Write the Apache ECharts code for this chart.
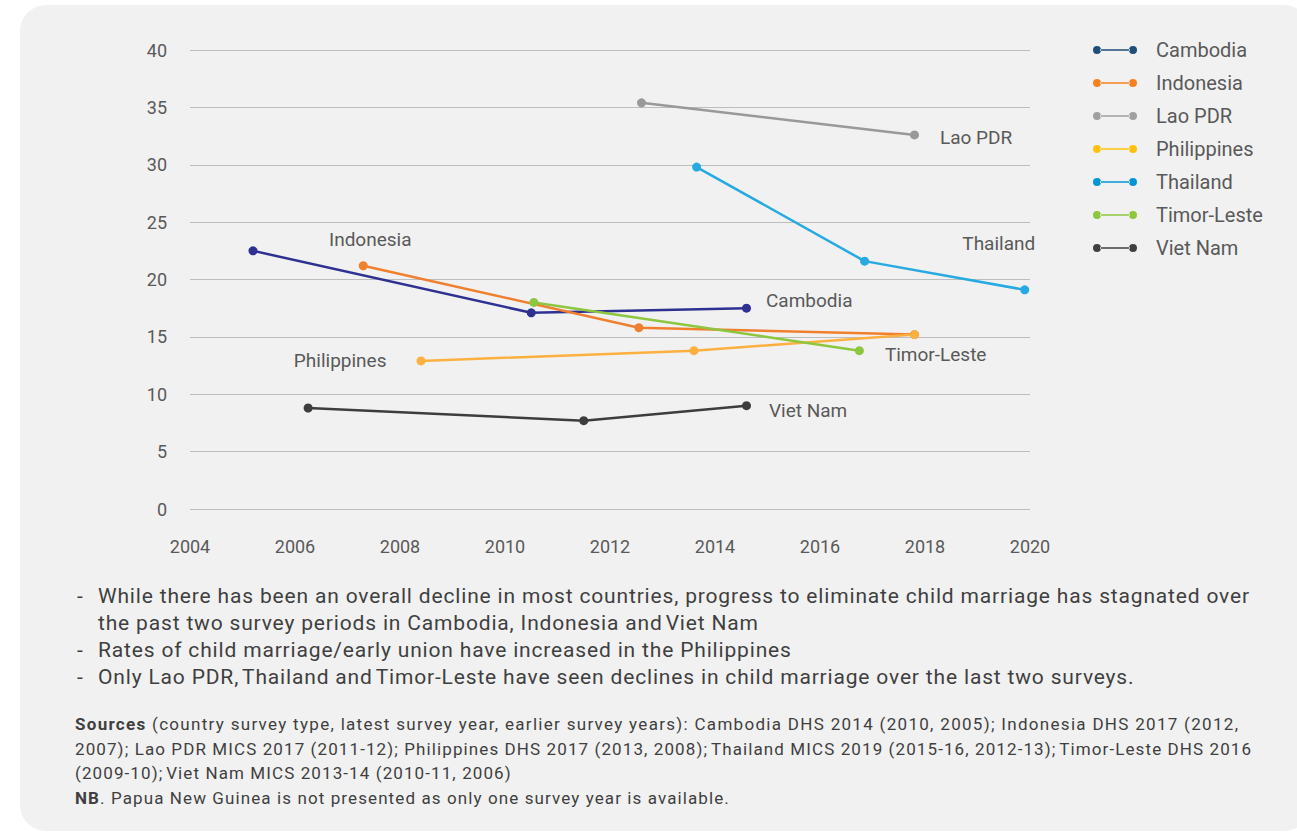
<!DOCTYPE html>
<html>
<head>
<meta charset="utf-8">
<script src="https://cdn.jsdelivr.net/npm/echarts@6/dist/echarts.min.js"></script>
<style>
  html, body { margin: 0; padding: 0; background: #ffffff; width: 1297px; height: 832px; overflow: hidden; }
  #panel { position: absolute; left: 20px; top: 5px; width: 1290px; height: 826px; background: #f1f1f1; border-radius: 26px; }
  #chart { position: absolute; left: 0; top: 0; width: 1297px; height: 560px; }
  .notes { position: absolute; left: 77px; top: 583px; font-family: Roboto, "Liberation Sans", sans-serif; font-size: 21px; line-height: 27px; color: #3f3f3f; letter-spacing: 0.83px; white-space: nowrap; }
  .notes div { position: relative; padding-left: 21px; }
  .notes div span.d { position: absolute; left: 0; }
  .src { position: absolute; left: 75px; top: 712px; font-family: Roboto, "Liberation Sans", sans-serif; font-size: 17px; line-height: 24.5px; color: #3f3f3f; letter-spacing: 1.1px; white-space: nowrap; }
  .src .l1 { letter-spacing: 1.3px; }
</style>
</head>
<body>
<div id="panel"></div>
<div id="chart"></div>
<div class="notes">
  <div><span class="d">-</span>While there has been an overall decline in most countries, progress to eliminate child marriage has stagnated over<br>the past two survey periods in Cambodia, Indonesia and&#8202;Viet Nam</div>
  <div><span class="d">-</span>Rates of child marriage/early union have increased in the Philippines</div>
  <div><span class="d">-</span>Only Lao PDR,&#8202;Thailand and&#8202;Timor-Leste have seen declines in child marriage over the last two surveys.</div>
</div>
<div class="src"><span class="l1"><b>Sources</b> (country survey type, latest survey year, earlier survey years): Cambodia DHS 2014 (2010, 2005); Indonesia DHS 2017 (2012,</span><br>2007); Lao PDR MICS 2017 (2011-12); Philippines DHS 2017 (2013, 2008);&#8202;Thailand MICS 2019 (2015-16, 2012-13);&#8202;Timor-Leste DHS 2016<br>(2009-10);&#8202;Viet Nam MICS 2013-14 (2010-11, 2006)<br><b>NB</b>. Papua New Guinea is not presented as only one survey year is available.</div>
<script>
// Survey year (fractional for split-year surveys) and child marriage rate, %
const cambodia    = [[2005.2, 22.5], [2010.5, 17.1], [2014.6, 17.5]];
const indonesia   = [[2007.3, 21.2], [2012.55, 15.8], [2017.8, 15.2]];
const laoPDR      = [[2012.6, 35.4], [2017.8, 32.6]];
const philippines = [[2008.4, 12.9], [2013.6, 13.8], [2017.8, 15.2]];
const thailand    = [[2013.65, 29.8], [2016.85, 21.6], [2019.9, 19.1]];
const timorLeste  = [[2010.55, 18.0], [2016.75, 13.8]];
const vietNam     = [[2006.25, 8.8], [2011.5, 7.7], [2014.6, 9.0]];

const countries = ['Cambodia', 'Indonesia', 'Lao PDR', 'Philippines', 'Thailand', 'Timor-Leste', 'Viet Nam'];
const seriesData = [cambodia, indonesia, laoPDR, philippines, thailand, timorLeste, vietNam];
const lineColors = ['#2e3192', '#f07f2e', '#999999', '#fbb040', '#27aae1', '#8dc63f', '#3d3d3d'];
const legendColors = ['#1f4e79', '#f58220', '#a0a0a0', '#ffc20e', '#0096d6', '#8dc63f', '#404040'];
const xTicks = [2004, 2006, 2008, 2010, 2012, 2014, 2016, 2018, 2020];
const yTicks = [0, 5, 10, 15, 20, 25, 30, 35, 40];

// Which point carries the country name, and where the name sits
const nameLabels = {
  'Cambodia':    { idx: 2, position: 'right', distance: 15, offset: [0, -8] },
  'Indonesia':   { idx: 0, position: 'top', distance: 5, offset: [7, -7] },
  'Lao PDR':     { idx: 1, position: 'right', distance: 21, offset: [0, 3] },
  'Philippines': { idx: 0, position: 'left', distance: 30, offset: [0, 0] },
  'Thailand':    { idx: 2, position: 'top', distance: 5, offset: [-26, -27] },
  'Timor-Leste': { idx: 1, position: 'right', distance: 21, offset: [0, 4] },
  'Viet Nam':    { idx: 2, position: 'right', distance: 18, offset: [0, 5] }
};

const legendIcon = 'path://M0,4a4,4 0 1,0 8,0a4,4 0 1,0 -8,0zM7,3.2L37,3.2L37,4.8L7,4.8zM36,4a4,4 0 1,0 8,0a4,4 0 1,0 -8,0z';

const chart = echarts.init(document.getElementById('chart'), null, { renderer: 'svg' });

const series = countries.map((name, i) => {
  const lab = nameLabels[name];
  return {
    name: name,
    type: 'line',
    color: lineColors[i],
    symbol: 'circle',
    symbolSize: 9,
    lineStyle: { width: 2.5, color: lineColors[i] },
    itemStyle: { color: lineColors[i] },
    emphasis: { disabled: true },
    data: seriesData[i].map((p, j) => j === lab.idx ? {
      value: p,
      label: {
        show: true,
        formatter: name,
        position: lab.position,
        distance: lab.distance,
        offset: lab.offset,
        color: '#595959',
        fontSize: 19,
        fontFamily: 'Roboto, sans-serif'
      }
    } : { value: p })
  };
});

chart.setOption({
  backgroundColor: 'transparent',
  animation: false,
  grid: { left: 190, right: 267, top: 50, bottom: 51, containLabel: false },
  legend: {
    orient: 'vertical',
    left: 1088,
    top: 35,
    icon: legendIcon,
    itemWidth: 44,
    itemHeight: 8,
    itemGap: 13,
    textStyle: { color: '#595959', fontSize: 20, fontFamily: 'Roboto, sans-serif', lineHeight: 20, padding: [0, 0, 0, 14] },
    selectedMode: false,
    data: countries.map((n, i) => ({ name: n, itemStyle: { color: legendColors[i] } }))
  },
  xAxis: {
    type: 'value',
    min: xTicks[0],
    max: xTicks[xTicks.length - 1],
    interval: 2,
    axisLine: { show: false },
    axisTick: { show: false },
    splitLine: { show: false },
    axisLabel: { color: '#595959', fontSize: 18, fontFamily: 'Roboto, sans-serif', margin: 28, formatter: v => String(v) }
  },
  yAxis: {
    type: 'value',
    min: yTicks[0],
    max: yTicks[yTicks.length - 1],
    interval: 5,
    axisLine: { show: false },
    axisTick: { show: false },
    splitLine: { show: true, lineStyle: { color: '#bdbdbd', width: 1 } },
    axisLabel: { color: '#595959', fontSize: 18, fontFamily: 'Roboto, sans-serif', margin: 23 }
  },
  series: series
});
</script>
</body>
</html>
